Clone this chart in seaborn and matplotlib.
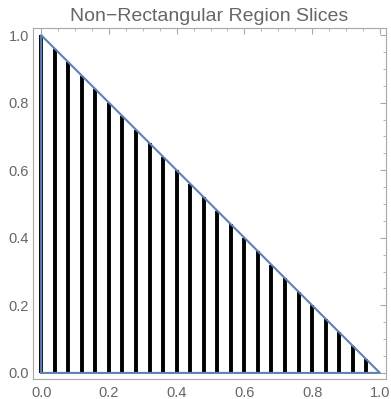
import matplotlib
matplotlib.use("Agg")
import matplotlib.pyplot as plt
import seaborn as sns
import pandas as pd
from matplotlib.ticker import MultipleLocator

# Data
slice_x = [0.00, 0.04, 0.08, 0.12, 0.16, 0.20, 0.24, 0.28, 0.32, 0.36,
           0.40, 0.44, 0.48, 0.52, 0.56, 0.60, 0.64, 0.68, 0.72, 0.76,
           0.80, 0.84, 0.88, 0.92, 0.96]
slice_top = [1.00, 0.96, 0.92, 0.88, 0.84, 0.80, 0.76, 0.72, 0.68, 0.64,
             0.60, 0.56, 0.52, 0.48, 0.44, 0.40, 0.36, 0.32, 0.28, 0.24,
             0.20, 0.16, 0.12, 0.08, 0.04]
boundary_x = [0.0, 1.0, 0.0, 0.0]
boundary_y = [0.0, 0.0, 1.0, 0.0]
x_ticks = [0.0, 0.2, 0.4, 0.6, 0.8, 1.0]
y_ticks = [0.0, 0.2, 0.4, 0.6, 0.8, 1.0]
title = "Non\u2212Rectangular Region Slices"

sns.set_style("white")
plt.rcParams['font.family'] = ['Liberation Sans', 'DejaVu Sans']

text_color = "#666666"
frame_color = "#a8a8a8"

fig = plt.figure(figsize=(3.91, 3.99), dpi=100)
ax = fig.add_axes([33/391, 20/399, 353/391, 351/399])

ax.vlines(slice_x, 0, slice_top, colors="black", linewidth=2.8, zorder=2)

bdf = pd.DataFrame({"x": boundary_x, "y": boundary_y})
sns.lineplot(data=bdf, x="x", y="y", sort=False, estimator=None,
             color="#5E81B5", linewidth=1.5, ax=ax, zorder=3)

ax.set_xlim(-0.024, 1.018)
ax.set_ylim(-0.018, 1.021)
ax.set_xticks(x_ticks)
ax.set_yticks(y_ticks)
ax.set_xticklabels([f"{v:.1f}" for v in x_ticks])
ax.set_yticklabels([f"{v:.1f}" for v in y_ticks])
ax.xaxis.set_minor_locator(MultipleLocator(0.05))
ax.yaxis.set_minor_locator(MultipleLocator(0.05))
ax.tick_params(which="both", direction="in", top=True, right=True,
               color=frame_color, labelcolor=text_color, labelsize=10.5)
ax.tick_params(which="major", length=4, width=0.8)
ax.tick_params(which="minor", length=2.2, width=0.6)
ax.tick_params(axis="x", which="major", pad=5)
ax.tick_params(axis="y", which="major", pad=3)
ax.set_xlabel("")
ax.set_ylabel("")
for s in ax.spines.values():
    s.set_color(frame_color)
    s.set_linewidth(0.8)

ax.set_title(title, color=text_color, fontsize=14, pad=5)

fig.savefig("out.png", dpi=100)
